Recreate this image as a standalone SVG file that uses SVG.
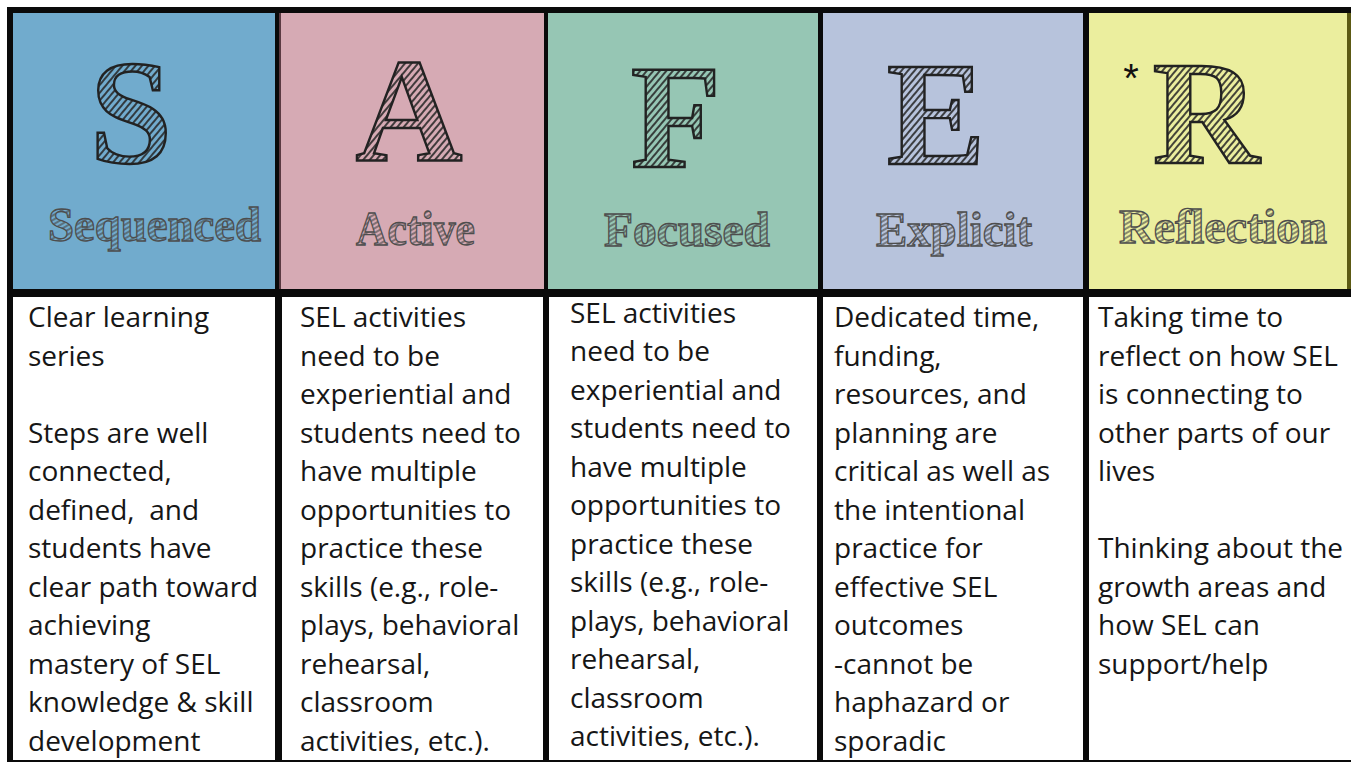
<svg xmlns="http://www.w3.org/2000/svg" width="1351" height="762" viewBox="0 0 1351 762">
<defs>
<pattern id="hatch" patternUnits="userSpaceOnUse" width="5" height="5" patternTransform="rotate(40)">
<line x1="1" y1="0" x2="1" y2="5" stroke="#262626" stroke-width="1.7"/>
</pattern>
<pattern id="hatch2" patternUnits="userSpaceOnUse" width="4" height="4" patternTransform="rotate(60)">
<line x1="1" y1="0" x2="1" y2="4" stroke="#4a4a4a" stroke-width="1.2"/>
</pattern>
</defs>
<style>
.big{font-family:"Liberation Serif",serif;font-weight:bold;font-size:148px;fill:url(#hatch);stroke:#222;stroke-width:2.4;text-anchor:middle}
.word{font-family:"Liberation Serif",serif;font-weight:bold;font-size:48px;fill:url(#hatch2);stroke:#4d4d4d;stroke-width:1.3}
.body{font-family:"Open Sans","Liberation Sans",sans-serif;font-size:28px;fill:#161616}
.cell{fill:#ffffff}
</style>
<rect x="0" y="0" width="1351" height="762" fill="#ffffff"/>
<rect x="7" y="7" width="1344" height="755" fill="#0a0a0a"/>

<g id="col-S">
<rect x="13" y="13" width="262" height="276" fill="#71abcd"/>
<text class="big" x="131" y="163">S</text>
<text class="word" x="48" y="241" textLength="213" lengthAdjust="spacingAndGlyphs">Sequenced</text>
<rect class="cell" x="13" y="297" width="262" height="463"/>
<text class="body">
<tspan x="28" y="327">Clear learning</tspan>
<tspan x="28" y="365.5">series</tspan>
<tspan x="28" y="442.5">Steps are well</tspan>
<tspan x="28" y="481">connected,</tspan>
<tspan x="28" y="519.5" xml:space="preserve">defined,  and</tspan>
<tspan x="28" y="558">students have</tspan>
<tspan x="28" y="596.5">clear path toward</tspan>
<tspan x="28" y="635">achieving</tspan>
<tspan x="28" y="673.5">mastery of SEL</tspan>
<tspan x="28" y="712">knowledge &amp; skill</tspan>
<tspan x="28" y="750.5">development</tspan>
</text>
</g>

<g id="col-A">
<rect x="279" y="13" width="2" height="276" fill="#5a3a42"/>
<rect x="281" y="13" width="263" height="276" fill="#d6aab4"/>
<text class="big" x="409" y="160">A</text>
<text class="word" x="356" y="245" textLength="119" lengthAdjust="spacingAndGlyphs">Active</text>
<rect class="cell" x="282" y="297" width="261" height="463"/>
<text class="body">
<tspan x="300" y="327">SEL activities</tspan>
<tspan x="300" y="365.5">need to be</tspan>
<tspan x="300" y="404">experiential and</tspan>
<tspan x="300" y="442.5">students need to</tspan>
<tspan x="300" y="481">have multiple</tspan>
<tspan x="300" y="519.5">opportunities to</tspan>
<tspan x="300" y="558">practice these</tspan>
<tspan x="300" y="596.5">skills (e.g., role-</tspan>
<tspan x="300" y="635">plays, behavioral</tspan>
<tspan x="300" y="673.5">rehearsal,</tspan>
<tspan x="300" y="712">classroom</tspan>
<tspan x="300" y="750.5">activities, etc.).</tspan>
</text>
</g>

<g id="col-F">
<rect x="548" y="13" width="270" height="276" fill="#96c6b4"/>
<text class="big" x="676" y="167">F</text>
<text class="word" x="604" y="246" textLength="166" lengthAdjust="spacingAndGlyphs">Focused</text>
<rect class="cell" x="549" y="297" width="268" height="463"/>
<text class="body">
<tspan x="570" y="322.5">SEL activities</tspan>
<tspan x="570" y="361">need to be</tspan>
<tspan x="570" y="399.5">experiential and</tspan>
<tspan x="570" y="438">students need to</tspan>
<tspan x="570" y="476.5">have multiple</tspan>
<tspan x="570" y="515">opportunities to</tspan>
<tspan x="570" y="553.5">practice these</tspan>
<tspan x="570" y="592">skills (e.g., role-</tspan>
<tspan x="570" y="630.5">plays, behavioral</tspan>
<tspan x="570" y="669">rehearsal,</tspan>
<tspan x="570" y="707.5">classroom</tspan>
<tspan x="570" y="746">activities, etc.).</tspan>
</text>
</g>

<g id="col-E">
<rect x="823" y="13" width="260" height="276" fill="#b7c3dc"/>
<text class="big" x="936" y="164">E</text>
<text class="word" x="876" y="246" textLength="156" lengthAdjust="spacingAndGlyphs">Explicit</text>
<rect class="cell" x="823" y="297" width="260" height="463"/>
<text class="body">
<tspan x="834" y="327">Dedicated time,</tspan>
<tspan x="834" y="365.5">funding,</tspan>
<tspan x="834" y="404">resources, and</tspan>
<tspan x="834" y="442.5">planning are</tspan>
<tspan x="834" y="481">critical as well as</tspan>
<tspan x="834" y="519.5">the intentional</tspan>
<tspan x="834" y="558">practice for</tspan>
<tspan x="834" y="596.5">effective SEL</tspan>
<tspan x="834" y="635">outcomes</tspan>
<tspan x="834" y="673.5">-cannot be</tspan>
<tspan x="834" y="712">haphazard or</tspan>
<tspan x="834" y="750.5">sporadic</tspan>
</text>
</g>

<g id="col-R">
<rect x="1089" y="13" width="262" height="276" fill="#5c5a14"/>
<rect x="1089" y="13" width="258" height="276" fill="#ebee9e"/>
<text x="1131" y="92" font-family="Liberation Sans,sans-serif" font-size="40" fill="#111" text-anchor="middle">*</text>
<text class="big" x="1206" y="163">R</text>
<text class="word" x="1119" y="243" textLength="208" lengthAdjust="spacingAndGlyphs">Reflection</text>
<rect class="cell" x="1089" y="297" width="262" height="463"/>
<text class="body">
<tspan x="1098" y="327">Taking time to</tspan>
<tspan x="1098" y="365.5">reflect on how SEL</tspan>
<tspan x="1098" y="404">is connecting to</tspan>
<tspan x="1098" y="442.5">other parts of our</tspan>
<tspan x="1098" y="481">lives</tspan>
<tspan x="1098" y="558">Thinking about the</tspan>
<tspan x="1098" y="596.5">growth areas and</tspan>
<tspan x="1098" y="635">how SEL can</tspan>
<tspan x="1098" y="673.5">support/help</tspan>
</text>
</g>

<g id="connectors"/>
</svg>
